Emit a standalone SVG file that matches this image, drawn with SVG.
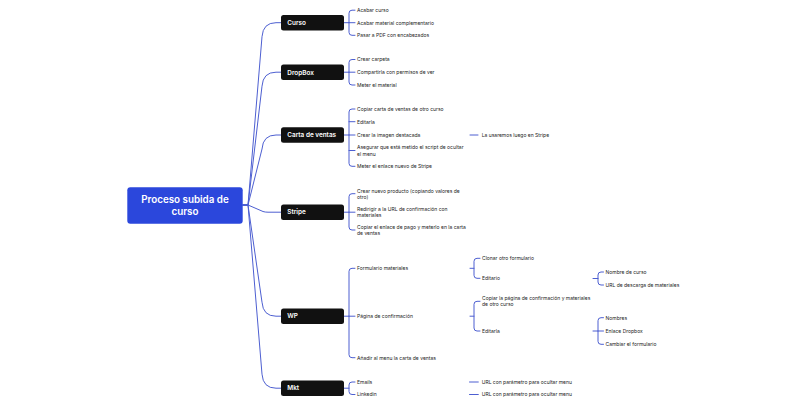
<svg xmlns="http://www.w3.org/2000/svg" width="800" height="400" viewBox="0 0 800 400">
<style>
.t{font-family:Inter,"Liberation Sans",sans-serif;font-size:5px;fill:#222}
.n{font-family:Inter,"Liberation Sans",sans-serif;font-size:6.4px;font-weight:600;fill:#fff}
.r{font-family:Inter,"Liberation Sans",sans-serif;font-size:9.8px;font-weight:600;fill:#fff}
.c{fill:none;stroke:#4d5fd1;stroke-width:1;stroke-linecap:round;stroke-linejoin:round}
.box{fill:#111}
</style>
<rect width="800" height="400" fill="#fff"/>
<g id="connectors" class="c">
<path d="M243,205 H248 L262,36.7 Q263,22.7 276,22.7 H281"/>
<path d="M243,205 H248 L262,86.2 Q263,72.2 276,72.2 H281"/>
<path d="M243,205 H248 L262,149 Q263,135 276,135 H281"/>
<path d="M243,205 H248 L263,211.5 Q265,212.2 268,212.2 H281"/>
<path d="M243,205 H248 L262,302.2 Q263,316.2 276,316.2 H281"/>
<path d="M243,205 H248 L262,374.2 Q263,388.2 276,388.2 H281"/>
<!-- Curso -->
<path d="M344,22.7 H349 M355,10.2 H352 Q349,10.2 349,13.2 V32.3 Q349,35.3 352,35.3 H355 M349,22.7 H355"/>
<!-- DropBox -->
<path d="M344,72.2 H349 M355,59.5 H352 Q349,59.5 349,62.5 V82 Q349,85 352,85 H355 M349,72.2 H355"/>
<!-- Carta -->
<path d="M344,135 H349 M355,109 H352 Q349,109 349,112 V163.3 Q349,166.3 352,166.3 H355 M349,121.7 H355 M349,135 H355 M349,150.5 H355"/>
<path d="M470,135 H478"/>
<!-- Stripe -->
<path d="M344,212.2 H349 M355,193.7 H352 Q349,193.7 349,196.7 V227 Q349,230 352,230 H355 M349,212.2 H355"/>
<!-- WP -->
<path d="M344,316.2 H349 M355,268.3 H352 Q349,268.3 349,271.3 V354.7 Q349,357.7 352,357.7 H355 M349,316.2 H355"/>
<path d="M470,268.3 H474 M480,258.3 H477 Q474,258.3 474,261.3 V275.3 Q474,278.3 477,278.3 H480"/>
<path d="M593,278.5 H598 M603.5,272 H601 Q598,272 598,275 V282 Q598,285 601,285 H603.5"/>
<path d="M470,316.2 H474 M480,301.3 H477 Q474,301.3 474,304.3 V328 Q474,331 477,331 H480"/>
<path d="M593,331 H598 M603.5,317.7 H601 Q598,317.7 598,320.7 V341.3 Q598,344.3 601,344.3 H603.5 M598,331 H603.5"/>
<!-- Mkt -->
<path d="M344,388.2 H349 M355,382 H352 Q349,382 349,385 V391.5 Q349,394.5 352,394.5 H355"/>
<path d="M469.5,382 H478.3 M469.5,394.5 H478.3"/>
</g>
<g id="root">
<rect x="127.3" y="187.3" width="115.4" height="36.4" rx="3" fill="#2b47dc"/>
<text class="r" x="185" y="202.6" text-anchor="middle">Proceso subida de</text>
<text class="r" x="185" y="215.2" text-anchor="middle">curso</text>
</g>
<g id="curso">
<rect class="box" x="281" y="15" width="63" height="15.5" rx="2.5"/>
<text class="n" x="287.3" y="25">Curso</text>
<text class="t" x="357" y="12">Acabar curso</text>
<text class="t" x="357" y="24.5">Acabar material complementario</text>
<text class="t" x="357" y="37.1">Pasar a PDF con encabezados</text>
</g>
<g id="dropbox">
<rect class="box" x="281" y="64.5" width="63" height="15.5" rx="2.5"/>
<text class="n" x="287.3" y="74.5">DropBox</text>
<text class="t" x="357" y="61.3">Crear carpeta</text>
<text class="t" x="357" y="74">Compartirla con permisos de ver</text>
<text class="t" x="357" y="86.8">Meter el material</text>
</g>
<g id="carta">
<rect class="box" x="281" y="127.3" width="63" height="15.5" rx="2.5"/>
<text class="n" x="287.3" y="137.3">Carta de ventas</text>
<text class="t" x="357" y="110.8">Copiar carta de ventas de otro curso</text>
<text class="t" x="357" y="123.5">Editarla</text>
<text class="t" x="357" y="136.8">Crear la imagen destacada</text>
<text class="t" x="357" y="149.3">Asegurar que está metido el script de ocultar</text>
<text class="t" x="357" y="155.5">el menu</text>
<text class="t" x="357" y="168.1">Meter el enlace nuevo de Stripe</text>
<text class="t" x="481.7" y="136.8">La usaremos luego en Stripe</text>
</g>
<g id="stripe">
<rect class="box" x="281" y="204.4" width="63" height="15.5" rx="2.5"/>
<text class="n" x="287.3" y="214.4">Stripe</text>
<text class="t" x="357" y="192.5">Crear nuevo producto (copiando valores de</text>
<text class="t" x="357" y="198.5">otro)</text>
<text class="t" x="357" y="211">Redirigir a la URL de confirmación con</text>
<text class="t" x="357" y="217">materiales</text>
<text class="t" x="357" y="228.8">Copiar el enlace de pago y meterlo en la carta</text>
<text class="t" x="357" y="234.8">de ventas</text>
</g>
<g id="wp">
<rect class="box" x="281" y="308.4" width="63" height="15.5" rx="2.5"/>
<text class="n" x="287.3" y="318.4">WP</text>
<text class="t" x="357" y="270.1">Formulario materiales</text>
<text class="t" x="357" y="318">Página de confirmación</text>
<text class="t" x="357" y="359.5">Añadir al menu la carta de ventas</text>
<text class="t" x="482" y="260.1">Clonar otro formulario</text>
<text class="t" x="482" y="280.1">Editario</text>
<text class="t" x="605.5" y="273.8">Nombre de curso</text>
<text class="t" x="605.5" y="286.8">URL de descarga de materiales</text>
<text class="t" x="482" y="300.1">Copiar la página de confirmación y materiales</text>
<text class="t" x="482" y="306.1">de otro curso</text>
<text class="t" x="482" y="332.8">Editarla</text>
<text class="t" x="605.5" y="319.5">Nombres</text>
<text class="t" x="605.5" y="332.8">Enlace Dropbox</text>
<text class="t" x="605.5" y="346.1">Cambiar el formulario</text>
</g>
<g id="mkt">
<rect class="box" x="281" y="380.5" width="63" height="15.5" rx="2.5"/>
<text class="n" x="287.3" y="390.4">Mkt</text>
<text class="t" x="357" y="383.8">Emails</text>
<text class="t" x="357" y="396.3">Linkedin</text>
<text class="t" x="481.7" y="383.8">URL con parámetro para ocultar menu</text>
<text class="t" x="481.7" y="396.3">URL con parámetro para ocultar menu</text>
</g>
</svg>
